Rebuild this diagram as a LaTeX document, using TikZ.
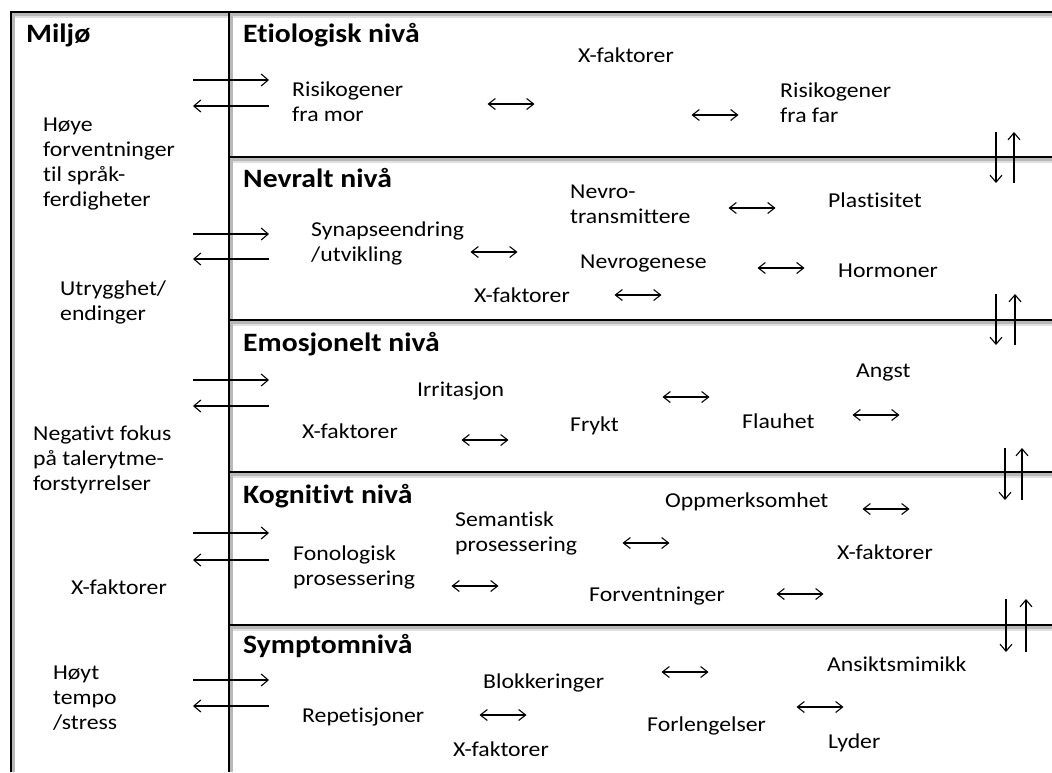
\documentclass[tikz,border=0pt]{standalone}
\usepackage{fontspec}
\setmainfont[FakeStretch=1.12,Ligatures={NoCommon}]{Carlito}
\usetikzlibrary{arrows.meta}
\begin{document}
\begin{tikzpicture}[x=1pt,y=-1pt,
  txt/.style={anchor=base west, inner sep=0pt, font=\fontsize{21.2}{24.8}\selectfont, align=left},
  ttl/.style={anchor=base west, inner sep=0pt, font=\fontsize{26.5}{30}\selectfont\bfseries},
  frame/.style={line width=1.4pt, black},
  shad/.style={line width=3pt, black!28},
  shadb/.style={line width=2pt, black!12},
  arr/.style={line width=1.1pt, -{Straight Barb[length=7pt,width=12pt]}},
  dbl/.style={line width=1.1pt, {Straight Barb[length=7pt,width=11pt]}-{Straight Barb[length=7pt,width=11pt]}}]
\useasboundingbox (0,0) rectangle (1052,772);
\fill[white] (0,0) rectangle (1052,772);
% shadows
\foreach \yy in {12,157,320,472,625}{
  \draw[shadb] (229,\yy+5) -- (1052,\yy+5);
  \draw[shad] (229,\yy+2.5) -- (1052,\yy+2.5);
}
\draw[shadb] (11,17) -- (229,17);
\draw[shad] (11,14.5) -- (229,14.5);
\foreach \xx in {11,229}{
  \draw[shad] (\xx+2.5,12) -- (\xx+2.5,772);
}
% frame lines
\draw[frame] (11,772) -- (11,12) -- (1052,12);
\draw[frame] (229,12) -- (229,772);
\foreach \yy in {157,320,472,625}{
  \draw[frame] (229,\yy) -- (1052,\yy);
}
% titles
\node[ttl] (miljo) at (26,42) {Miljø};
\node[ttl] (t1) at (243,42) {Etiologisk nivå};
\node[ttl] (t2) at (243,187) {Nevralt nivå};
\node[ttl] (t3) at (243,351) {Emosjonelt nivå};
\node[ttl] (t4) at (243,503) {Kognitivt nivå};
\node[ttl] (t5) at (243,653) {Symptomnivå};
% left column (anchor at baseline of last line)
\node[txt] (m1) at (43,206) {Høye\\forventninger\\til språk-\\ferdigheter};
\node[txt] (m2) at (60,320) {Utrygghet/\\endinger};
\node[txt] (m3) at (33,490) {Negativt fokus\\på talerytme-\\forstyrrelser};
\node[txt] (m4) at (71,594) {X-faktorer};
\node[txt] (m5) at (53,729) {Høyt\\tempo\\/stress};
% band 1
\node[txt] (a1) at (578,62) {X-faktorer};
\node[txt] (a2) at (292,121) {Risikogener\\fra mor};
\node[txt] (a3) at (780,122) {Risikogener\\fra far};
% band 2
\node[txt] (b1) at (311,261) {Synapseendring\\/utvikling};
\node[txt] (b2) at (570,223) {Nevro-\\transmittere};
\node[txt] (b3) at (580,268) {Nevrogenese};
\node[txt] (b4) at (474,302) {X-faktorer};
\node[txt] (b5) at (828,207) {Plastisitet};
\node[txt] (b6) at (838,277) {Hormoner};
% band 3
\node[txt] (c1) at (417,396) {Irritasjon};
\node[txt] (c2) at (302,438) {X-faktorer};
\node[txt] (c3) at (570,431) {Frykt};
\node[txt] (c4) at (742,428) {Flauhet};
\node[txt] (c5) at (856,377) {Angst};
% band 4
\node[txt] (d1) at (455,551) {Semantisk\\prosessering};
\node[txt] (d2) at (293,585) {Fonologisk\\prosessering};
\node[txt] (d3) at (665,507) {Oppmerksomhet};
\node[txt] (d4) at (837,559) {X-faktorer};
\node[txt] (d5) at (589,601) {Forventninger};
% band 5
\node[txt] (e1) at (483,688) {Blokkeringer};
\node[txt] (e2) at (302,722) {Repetisjoner};
\node[txt] (e3) at (453,756) {X-faktorer};
\node[txt] (e4) at (647,731) {Forlengelser};
\node[txt] (e5) at (827,671) {Ansiktsmimikk};
\node[txt] (e6) at (828,748) {Lyder};
% left arrows
\foreach \ya/\yb in {80/106,234/259,380/406,533/560,680/706}{
  \draw[arr] (193,\ya) -- (269,\ya);
  \draw[arr] (269,\yb) -- (193,\yb);
}
% double arrows (centres)
\foreach \cx/\cy in {511/104,715/115,494/252,752/208,781/268,638/295,485/440,686/397,876/415,475/586,646/543,886/509,800/594,685/672,503/715,820/707}{
  \draw[dbl] (\cx-23.5,\cy) -- (\cx+23.5,\cy);
}
% vertical arrow pairs
\foreach \xd/\xu/\yt/\yb in {996/1014/132/183,996/1015/294/345,1005/1022/448/500,1006/1026/599/652}{
  \draw[arr] (\xd,\yt) -- (\xd,\yb);
  \draw[arr] (\xu,\yb) -- (\xu,\yt);
}
\end{tikzpicture}
\end{document}
